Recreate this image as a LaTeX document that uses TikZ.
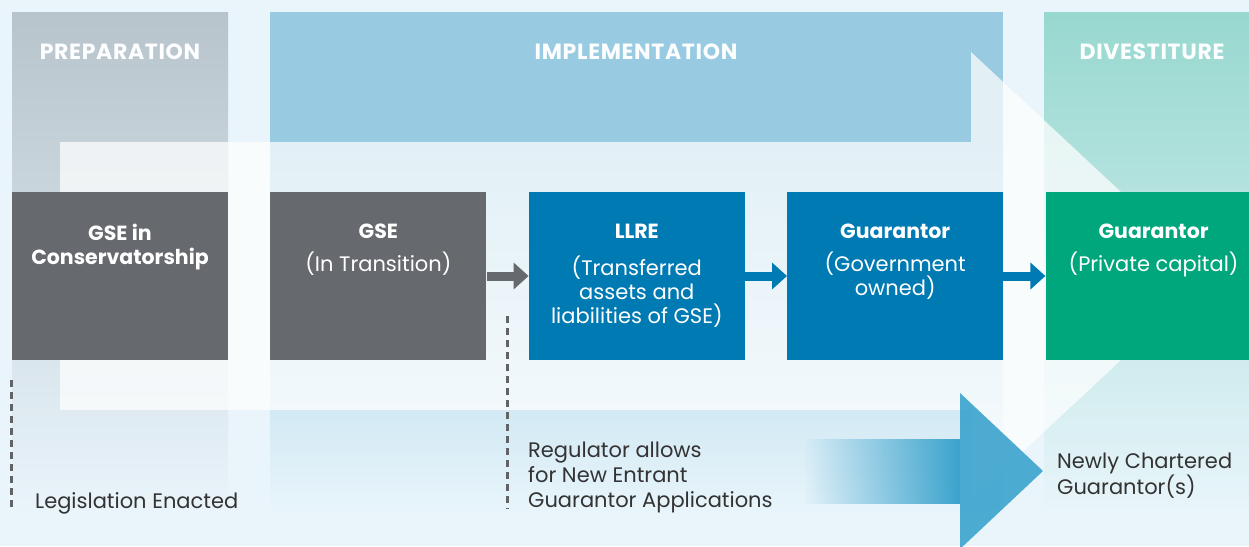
\documentclass[tikz,border=0pt]{standalone}
\usepackage{fontspec}
\setmainfont{Poppins}
\usetikzlibrary{positioning,arrows.meta,fadings}

\definecolor{pagebg}{HTML}{E9F5FB}
\definecolor{prepgray}{HTML}{B8C4CB}
\definecolor{implblue}{HTML}{98CBE2}
\definecolor{divteal}{HTML}{97D8CF}
\definecolor{stagegray}{HTML}{66696E}
\definecolor{stageblue}{HTML}{007AB3}
\definecolor{stagegreen}{HTML}{00A77C}
\definecolor{notetext}{HTML}{333333}
\definecolor{dashgray}{HTML}{626367}
\definecolor{entryblue}{HTML}{3BA3CD}

% text block inside a stage box, top aligned
\newcommand{\stagelabel}[1]{\parbox[c][104pt][t]{208pt}{\centering #1}}
\newcommand{\stagetitle}[1]{{\fontsize{20.5}{24}\selectfont\bfseries #1}}

\begin{document}
\begin{tikzpicture}[x=1pt, y=-1pt, node distance=42pt,
    stage/.style={rectangle, minimum width=216pt, minimum height=168pt, inner sep=0pt, text=white, font=\fontsize{21}{24}\selectfont},
    phase/.style={text=white!92!pagebg, font=\bfseries\fontsize{22}{26}\selectfont\addfontfeatures{LetterSpace=3}},
    note/.style={anchor=north west, align=left, inner sep=0pt, text=notetext, font=\fontsize{21}{25}\selectfont},
    link/.style={line width=9pt, -{Triangle[length=15pt, width=26pt]}},
    marker/.style={dashgray, line width=2.8pt, dash pattern=on 7pt off 5pt}]

    % Frame and background
    \useasboundingbox (0,0) rectangle (1249,546);
    \clip (0,0) rectangle (1249,546);
    \fill[pagebg] (0,0) rectangle (1249,546);

    % Phase columns
    \shade[top color=prepgray, bottom color=pagebg] (12,12) rectangle (228,515);
    \fill[implblue] (270,12) rectangle (1003,142);
    \shade[top color=implblue, bottom color=pagebg] (270,142) rectangle (1003,515);
    \shade[top color=divteal, bottom color=pagebg] (1044,12) rectangle (1260,515);

    % Phase titles
    \node[phase] (prep) at (120,52) {PREPARATION};
    \node[phase] (impl) at (636,52) {IMPLEMENTATION};
    \node[phase] (divest) at (1152,52) {DIVESTITURE};

    % Big translucent arrow
    \fill[white, fill opacity=0.72] (60,142) -- (971,142) -- (971,52) -- (1211,276)
        -- (971,500) -- (971,410) -- (60,410) -- cycle;

    % Stages
    \node[stage, fill=stagegray] (cons) at (120,276) {\stagelabel{\stagetitle{GSE in\\Conservatorship}}};
    \node[stage, fill=stagegray, right=of cons] (trans) {\stagelabel{\stagetitle{GSE}\\[9pt](In Transition)}};
    \node[stage, fill=stageblue, right=of trans] (llre) {\stagelabel{\stagetitle{LLRE}\\[13pt](Transferred\\assets and\\liabilities of GSE)}};
    \node[stage, fill=stageblue, right=of llre] (govt) {\stagelabel{\stagetitle{Guarantor}\\[9pt](Government\\owned)}};
    \node[stage, fill=stagegreen, right=of govt] (priv) {\stagelabel{\stagetitle{Guarantor}\\[9pt](Private capital)}};

    % Links
    \draw[link, stagegray] (trans) -- (llre);
    \draw[link, stageblue] (llre) -- (govt);
    \draw[link, stageblue] (govt) -- (priv);

    % Notes
    \node[note] (legis) at (35,492) {Legislation Enacted};
    \node[note] (regul) at (528,442) {Regulator allows\\for New Entrant\\Guarantor Applications};
    \node[note] (newly) at (1057,453) {Newly Chartered\\Guarantor(s)};

    % Milestone markers
    \coordinate (gapmid) at ([xshift=21pt]trans.east);
    \draw[marker] ([yshift=-20pt]cons.south west) -- (cons.west |- legis.base);
    \draw[marker] ([yshift=-40pt]gapmid) -- (gapmid |- legis.base);

    % New entrants arrow
    \fill[entryblue, path fading=west] (803,439) rectangle (960,504);
    \fill[entryblue, fill opacity=0.9] (960,393) -- (1043,471) -- (960,549) -- cycle;

\end{tikzpicture}
\end{document}
